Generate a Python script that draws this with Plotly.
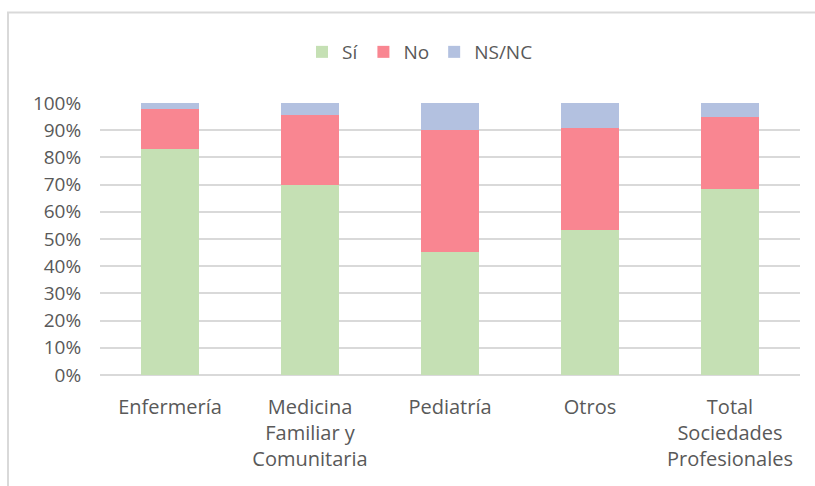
import plotly.graph_objects as go

categories = ["Enfermería", "Medicina<br>Familiar y<br>Comunitaria", "Pediatría", "Otros",
              "Total<br>Sociedades<br>Profesionales"]
si_values = [83.1, 69.7, 45.4, 53.3, 68.3]
no_values = [14.7, 25.9, 44.7, 37.6, 26.4]
nsnc_values = [2.2, 4.4, 9.9, 9.1, 5.3]
tick_vals = [0, 10, 20, 30, 40, 50, 60, 70, 80, 90, 100]
tick_text = [f"{v}%" for v in tick_vals]

series = [
    ("Sí", si_values, "#C5E0B4"),
    ("No", no_values, "#F98691"),
    ("NS/NC", nsnc_values, "#B3C1E0"),
]

fig = go.Figure()
for name, vals, color in series:
    fig.add_trace(go.Bar(x=categories, y=vals, name=name, marker=dict(color=color, line=dict(width=0))))

W, H = 815, 486
L, R, T, B = 100, 15, 103, 111
pw, ph = W - L - R, H - T - B

def px(x):
    return (x - L) / pw

def py(y):
    return (H - B - y) / ph

fig.update_layout(
    width=W, height=H,
    barmode="stack",
    bargap=0.59,
    plot_bgcolor="white",
    paper_bgcolor="white",
    margin=dict(l=L, r=R, t=T, b=B),
    font=dict(family="Open Sans", size=19, color="#595959"),
    legend=dict(orientation="h", x=px(420), y=py(52), xanchor="center", yanchor="middle",
                font=dict(size=19, color="#595959"), traceorder="normal",
                itemwidth=30, itemsizing="constant"),
    xaxis=dict(showgrid=False, showline=False, ticks="outside", ticklen=14,
               tickcolor="rgba(0,0,0,0)", tickfont=dict(size=20)),
    yaxis=dict(range=[0, 100], tickvals=tick_vals, ticktext=tick_text, showgrid=True,
               gridcolor="#D9D9D9", gridwidth=1.5, zeroline=True, zerolinecolor="#D9D9D9",
               zerolinewidth=1.5, showline=False, ticks="outside", ticklen=14,
               tickcolor="rgba(0,0,0,0)", tickfont=dict(size=19)),
    shapes=[dict(type="rect", xref="paper", yref="paper", x0=px(8), x1=px(860),
                 y0=py(540), y1=py(12.5), line=dict(color="#D9D9D9", width=2),
                 fillcolor="rgba(0,0,0,0)", layer="below")],
)

fig.write_html("out.html", config={"displayModeBar": False},
               post_script="document.body.style.margin='0';")
